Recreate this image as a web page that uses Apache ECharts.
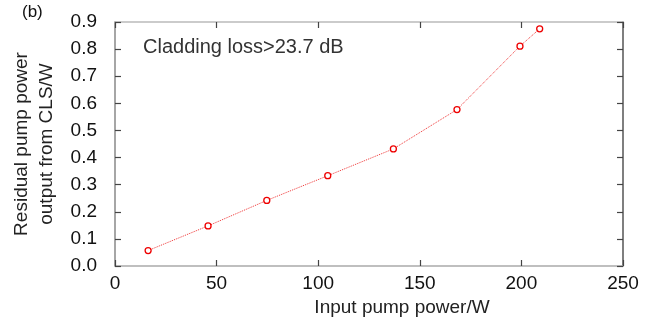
<!DOCTYPE html>
<html>
<head>
<meta charset="utf-8">
<script src="https://cdn.jsdelivr.net/npm/echarts@6/dist/echarts.min.js"></script>
<style>
  html, body { margin: 0; padding: 0; background: #fff; }
  #main { width: 652px; height: 324px; }
</style>
</head>
<body>
<div id="main"></div>
<script>
// input pump power (W) vs residual pump power out of the CLS (W)
const inputPower = [16.3, 45.8, 74.7, 104.7, 137.0, 168.3, 199.3, 209.0];
const residualPower = [0.057, 0.148, 0.242, 0.333, 0.432, 0.577, 0.811, 0.875];
const xTicks = [0, 50, 100, 150, 200, 250];
const yTicks = [0, 0.1, 0.2, 0.3, 0.4, 0.5, 0.6, 0.7, 0.8, 0.9];

const font = 'Liberation Sans, Arial, sans-serif';
const chart = echarts.init(document.getElementById('main'));

function ticks() {
  return { show: true, inside: true, length: 6, lineStyle: { color: '#444', width: 1.2 } };
}

const option = {
  animation: false,
  grid: { left: 115, right: 29, top: 22, bottom: 58 },
  graphic: [
    {
      type: 'text',
      left: 22,
      top: 4,
      style: { text: '(b)', font: '17px ' + font, fill: '#111' }
    },
    {
      type: 'text',
      left: 143,
      top: 37,
      style: { text: 'Cladding loss>23.7 dB', font: '20px ' + font, fill: '#333' }
    }
  ],
  xAxis: [
    {
      type: 'value',
      min: xTicks[0],
      max: xTicks[xTicks.length - 1],
      interval: 50,
      name: 'Input pump power/W',
      nameLocation: 'middle',
      nameGap: 31,
      nameTextStyle: { fontFamily: font, fontSize: 19, color: '#222', padding: [0, 0, 0, 66] },
      axisLine: { show: true, onZero: false, lineStyle: { color: '#aaa', width: 1.5 } },
      axisTick: ticks(),
      axisLabel: { fontFamily: font, fontSize: 19, color: '#111', margin: 8 },
      splitLine: { show: false }
    },
    {
      type: 'value',
      position: 'top',
      min: xTicks[0],
      max: xTicks[xTicks.length - 1],
      interval: 50,
      axisLine: { show: true, onZero: false, lineStyle: { color: '#bbb', width: 1.5 } },
      axisTick: ticks(),
      axisLabel: { show: false },
      splitLine: { show: false }
    }
  ],
  yAxis: [
    {
      type: 'value',
      min: yTicks[0],
      max: yTicks[yTicks.length - 1],
      interval: 0.1,
      name: 'Residual pump power\noutput from CLS/W',
      nameLocation: 'middle',
      nameGap: 56,
      nameTextStyle: { fontFamily: font, fontSize: 19, color: '#222', lineHeight: 25 },
      axisLine: { show: true, onZero: false, lineStyle: { color: '#888', width: 1.5 } },
      axisTick: ticks(),
      axisLabel: {
        fontFamily: font,
        fontSize: 19,
        color: '#111',
        margin: 18,
        formatter: v => v.toFixed(1)
      },
      splitLine: { show: false }
    },
    {
      type: 'value',
      position: 'right',
      min: yTicks[0],
      max: yTicks[yTicks.length - 1],
      interval: 0.1,
      axisLine: { show: true, onZero: false, lineStyle: { color: '#555', width: 1.5 } },
      axisTick: ticks(),
      axisLabel: { show: false },
      splitLine: { show: false }
    }
  ],
  series: [
    {
      type: 'line',
      data: inputPower.map((x, i) => [x, residualPower[i]]),
      symbol: 'circle',
      symbolSize: 6,
      showSymbol: true,
      lineStyle: { color: '#e33', width: 1, type: 'dotted' },
      itemStyle: { color: '#fff', borderColor: '#e00', borderWidth: 1.3 }
    }
  ]
};

chart.setOption(option);
</script>
</body>
</html>
